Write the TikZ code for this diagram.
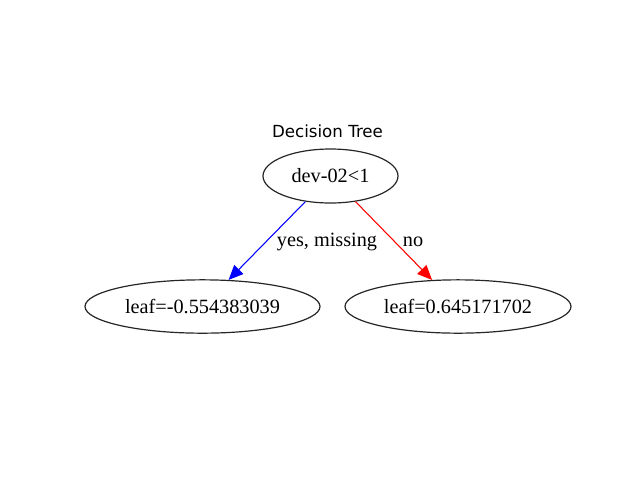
\documentclass[tikz,border=0pt]{standalone}
\usepackage{fontspec}
\setmainfont{Liberation Serif}
\newfontfamily\titlefont{DejaVu Sans}
\usetikzlibrary{shapes.geometric,arrows.meta}
\begin{document}
\begin{tikzpicture}[x=0.75pt,y=-0.75pt,
  treenode/.style={ellipse,draw=black!85,line width=0.9pt,inner sep=0pt,
    font=\fontsize{15.2}{18}\selectfont},
  edgelabel/.style={font=\fontsize{15.2}{18}\selectfont,inner sep=0pt},
  yesedge/.style={draw=blue,line width=0.8pt,-{Triangle[length=11pt,width=9.5pt,fill=blue]}},
  noedge/.style={draw=red,line width=0.8pt,-{Triangle[length=11pt,width=9.5pt,fill=red]}}]
  \useasboundingbox (0,0) rectangle (640,480);
  % title
  \node[font=\titlefont\fontsize{12.5}{15}\selectfont,inner sep=0pt] (title) at (327.5,131) {Decision Tree};
  % nodes
  \node[treenode,minimum width=101.25pt,minimum height=40.5pt] (root) at (330.5,176) {dev-02<1};
  \node[treenode,minimum width=176.25pt,minimum height=40pt] (left) at (202.5,306.5) {leaf=-0.554383039};
  \node[treenode,minimum width=169.5pt,minimum height=40pt] (right) at (458,306.5) {leaf=0.645171702};
  % edges
  \draw[yesedge] (root) -- (left);
  \draw[noedge] (root) -- (right);
  % edge labels
  \node[edgelabel] (lyes) at (327,242) {yes, missing};
  \node[edgelabel] (lno) at (413,242) {no};
\end{tikzpicture}
\end{document}
